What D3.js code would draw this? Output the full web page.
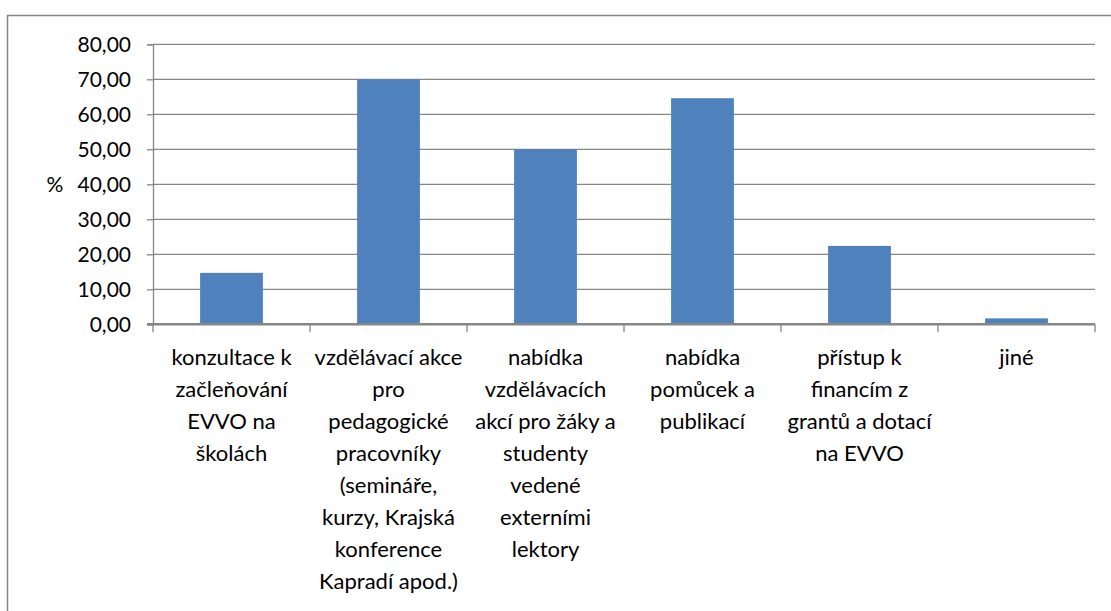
<!DOCTYPE html>
<html><head><meta charset="utf-8">
<script src="https://cdn.jsdelivr.net/npm/d3@7"></script>
<style>
html,body{margin:0;padding:0;background:#fff;}
svg{display:block;}
text{font-family:Lato,"Open Sans",sans-serif;fill:#000;}
</style></head>
<body>
<svg id="chart" width="1111" height="611"></svg>
<script>
const categories = [
  "konzultace k\nzačleňování\nEVVO na\nškolách",
  "vzdělávací akce\npro\npedagogické\npracovníky\n(semináře,\nkurzy, Krajská\nkonference\nKapradí apod.)",
  "nabídka\nvzdělávacích\nakcí pro žáky a\nstudenty\nvedené\nexterními\nlektory",
  "nabídka\npomůcek a\npublikací",
  "přístup k\nfinancím z\ngrantů a dotací\nna EVVO",
  "jiné"
];
const values = [14.7, 70.0, 50.0, 64.6, 22.4, 1.7];
const yTicks = [0, 10, 20, 30, 40, 50, 60, 70, 80];
const yAxisTitle = "%";

(function() {
const svg = d3.select("#chart");
const pLeft = 153, pRight = 1095, pTop = 44.3, pBottom = 324.3;
const grid = "#868686";
const barColor = "#4f81bd";
const tickFont = 21, labelFont = 22;

const cz = d3.formatLocale({decimal: ",", thousands: "\u00a0", grouping: [3], currency: ["", " Kč"]});
const fmt = cz.format(".2f");

svg.append("rect").attr("x", 7.5).attr("y", 15.5).attr("width", 1200).attr("height", 700)
  .attr("fill", "none").attr("stroke", grid).attr("stroke-width", 1.5);

const x = d3.scaleBand().domain(categories).range([pLeft, pRight]).paddingInner(0.6).paddingOuter(0.3);
const xb = d3.scaleBand().domain(categories).range([pLeft, pRight]);
const y = d3.scaleLinear().domain([0, 80]).range([pBottom, pTop]);

svg.append("g").selectAll("line").data(yTicks.filter(d => d > 0)).join("line")
  .attr("x1", pLeft).attr("x2", pRight).attr("y1", d => y(d)).attr("y2", d => y(d))
  .attr("stroke", grid).attr("stroke-width", 1.3);

const ya = svg.append("g").attr("transform", `translate(${pLeft},0)`)
  .call(d3.axisLeft(y).tickValues(yTicks).tickSize(6).tickPadding(16).tickFormat(fmt));
ya.select(".domain").attr("stroke", grid).attr("stroke-width", 1.3);
ya.selectAll(".tick line").attr("stroke", grid).attr("stroke-width", 1.3);
ya.selectAll(".tick text").attr("font-size", tickFont).attr("font-family", "Lato").attr("fill", "#000");

svg.append("text").attr("x", 55).attr("y", y(40)).attr("dy", "0.35em")
  .attr("text-anchor", "middle").attr("font-size", tickFont).text(yAxisTitle);

svg.append("g").selectAll("rect").data(values).join("rect")
  .attr("x", (d, i) => x(categories[i])).attr("width", x.bandwidth())
  .attr("y", d => y(d)).attr("height", d => y(0) - y(d)).attr("fill", barColor);

svg.append("line").attr("x1", pLeft - 6).attr("x2", pRight).attr("y1", pBottom).attr("y2", pBottom)
  .attr("stroke", grid).attr("stroke-width", 2.5);
const bounds = categories.map(c => xb(c)).concat([pRight]);
svg.append("g").selectAll("line").data(bounds).join("line")
  .attr("x1", d => d).attr("x2", d => d).attr("y1", pBottom).attr("y2", pBottom + 8)
  .attr("stroke", grid).attr("stroke-width", 1.3);

const lab = svg.append("g").selectAll("text").data(categories).join("text")
  .attr("text-anchor", "middle").attr("font-size", labelFont)
  .attr("transform", d => `translate(${xb(d) + xb.bandwidth() / 2},365)`);
lab.each(function(d) {
  d3.select(this).selectAll("tspan").data(d.split("\n")).join("tspan")
    .attr("x", 0).attr("y", (l, i) => i * 32).text(l => l);
});
})();
</script>
</body></html>
